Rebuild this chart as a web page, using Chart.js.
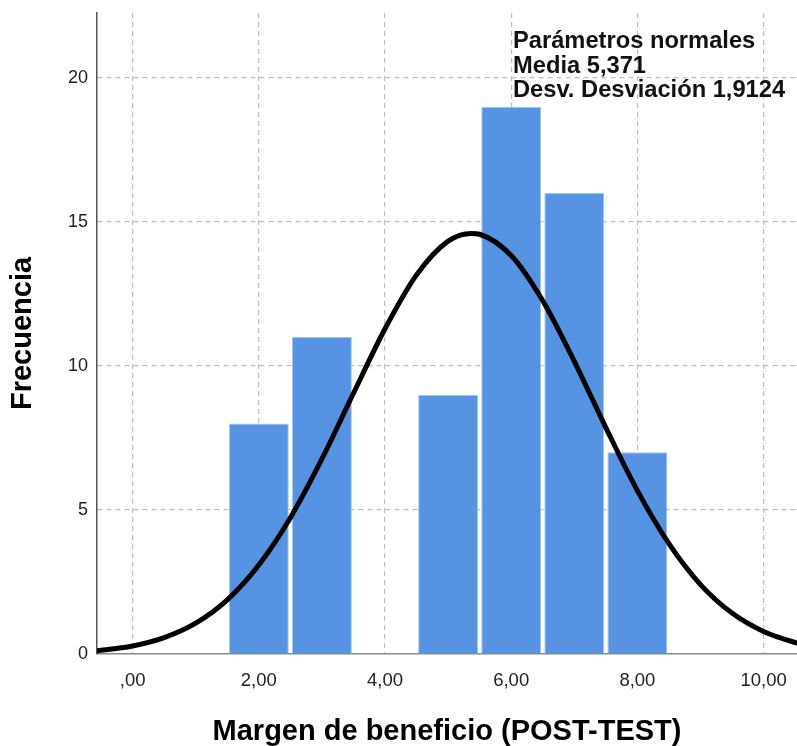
<!DOCTYPE html>
<html>
<head>
<meta charset="utf-8">
<script src="https://cdn.jsdelivr.net/npm/chart.js@4"></script>
<style>
  body { margin: 0; background: #fff; }
  #wrap { width: 797px; height: 746px; }
</style>
</head>
<body>
<div id="wrap"><canvas id="chart_hist" width="797" height="746"></canvas></div>
<script>
// histogram bins (centre of each bin) and their counts
const binCenters = [2, 3, 5, 6, 7, 8];
const binCounts = [8, 11, 9, 19, 16, 7];

// normal curve
const curveX = [-0.6, -0.5, 0, 0.5, 1, 1.5, 2, 2.5, 3, 3.5, 4, 4.5, 5, 5.37, 5.5, 6, 6.5, 7, 7.5, 8, 8.5, 9, 9.5, 10, 10.5, 10.6];
const curveY = [0.11, 0.13, 0.28, 0.57, 1.07, 1.88, 3.09, 4.73, 6.77, 9.05, 11.29, 13.16, 14.33, 14.6, 14.57, 13.83, 12.26, 10.16, 7.86, 5.67, 3.83, 2.41, 1.42, 0.78, 0.40, 0.35];

const xTicks = [0, 2, 4, 6, 8, 10];
const yTicks = [0, 5, 10, 15, 20];
const legendLines = ['Parámetros normales', 'Media 5,371', 'Desv. Desviación 1,9124'];

const FONT = '"Liberation Sans", Arial, sans-serif';

const fmtX = (v) => v.toFixed(2).replace('.', ',').replace(/^0,/, ',');

const gridDash = {
    color: (ctx) => (ctx.tick && ctx.tick.value === 0 && ctx.scale.axis === 'y') ? 'rgba(0,0,0,0)' : '#bdbdbd',
    lineWidth: 1.2,
    drawTicks: false,
    tickLength: 0,
    offset: false,
};

const paramsText = {
    id: 'paramsText',
    afterDraw(chart) {
        const { ctx } = chart;
        ctx.save();
        ctx.font = 'bold 23.7px ' + FONT;
        ctx.fillStyle = '#111';
        ctx.textBaseline = 'alphabetic';
        legendLines.forEach((t, i) => ctx.fillText(t, 513, 48 + i * 24.5));
        ctx.restore();
    },
};

new Chart(document.getElementById('chart_hist'), {
    data: {
        datasets: [
            {
                type: 'line',
                data: curveX.map((x, i) => ({ x, y: curveY[i] })),
                borderColor: '#000',
                borderWidth: 5,
                pointRadius: 0,
                cubicInterpolationMode: 'monotone',
                fill: false,
            },
            {
                type: 'bar',
                data: binCenters.map((x, i) => ({ x, y: binCounts[i] })),
                backgroundColor: '#5694e3',
                borderColor: '#a6c6f0',
                borderWidth: 1,
                barPercentage: 0.95,
                categoryPercentage: 1,
            },
        ],
    },
    options: {
        responsive: false,
        animation: false,
        layout: { padding: { top: 13, right: 0, left: 0, bottom: 0 } },
        scales: {
            x: {
                type: 'linear',
                offset: false,
                min: -0.565,
                max: 10.53,
                afterBuildTicks: (s) => { s.ticks = xTicks.map((value) => ({ value })); },
                afterFit: (s) => { s.height = 92; s.paddingLeft = 0; s.paddingRight = 0; },
                grid: gridDash,
                border: { display: true, color: '#8a8a8a', width: 1.5, dash: [5, 4] },
                ticks: {
                    color: '#222',
                    font: { family: FONT, size: 18.5 },
                    padding: 16,
                    maxRotation: 0,
                    callback: (v) => fmtX(v),
                },
                title: {
                    display: true,
                    text: 'Margen de beneficio (POST-TEST)',
                    color: '#000',
                    font: { family: FONT, size: 29, weight: 'bold', lineHeight: 1 },
                    padding: { top: 0, bottom: 0 },
                },
            },
            y: {
                type: 'linear',
                min: 0,
                max: 22.25,
                afterBuildTicks: (s) => { s.ticks = yTicks.map((value) => ({ value })); },
                afterFit: (s) => { s.width = 97; s.paddingTop = 0; s.paddingBottom = 0; },
                grid: gridDash,
                border: { display: true, color: '#555', width: 1.5, dash: [5, 4] },
                ticks: {
                    color: '#222',
                    font: { family: FONT, size: 18 },
                    padding: 9,
                },
                title: {
                    display: true,
                    text: 'Frecuencia',
                    color: '#000',
                    font: { family: FONT, size: 29, weight: 'bold', lineHeight: 1 },
                    padding: { top: 8, bottom: 0 },
                },
            },
        },
        plugins: {
            legend: { display: false },
            tooltip: { enabled: false },
        },
    },
    plugins: [paramsText],
});
</script>
</body>
</html>
